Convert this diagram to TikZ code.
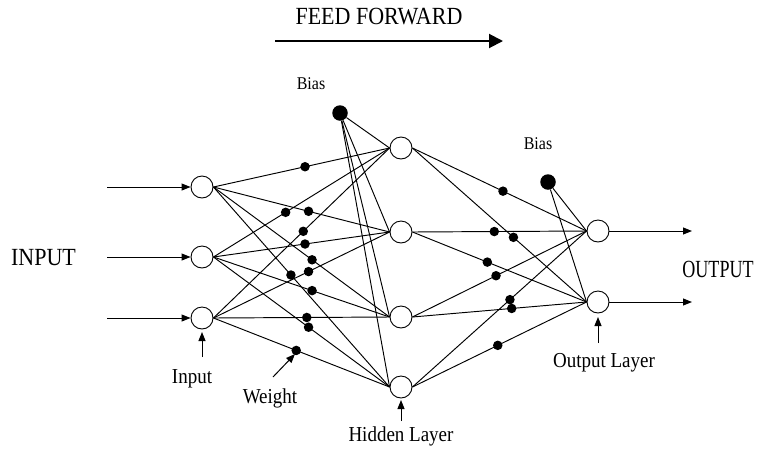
\documentclass[tikz,border=0pt]{standalone}
\usepackage{fontspec}
\usepackage{graphicx}
\setmainfont{Liberation Serif}
\usetikzlibrary{arrows.meta,calc}
% text set slightly taller than wide
\newcommand{\tallt}[1]{\scalebox{1}[1.12]{#1}}
\begin{document}
\begin{tikzpicture}[x=1pt,y=-1pt,
  neuron/.style={circle,draw,line width=0.9pt,minimum size=22pt,inner sep=0pt},
  biasdot/.style={circle,fill=black,minimum size=15.5pt,inner sep=0pt},
  wdot/.style={circle,fill=black,minimum size=9.5pt,inner sep=0pt},
  conn/.style={line width=0.95pt},
  arr/.style={line width=1pt,-{Triangle[length=9pt,width=7pt]}},
  bigtext/.style={font=\fontsize{22}{26}\selectfont,anchor=base,inner sep=0pt},
  lbl/.style={font=\fontsize{19}{22}\selectfont,anchor=base,inner sep=0pt},
  smalltext/.style={font=\fontsize{16}{19}\selectfont,anchor=base,inner sep=0pt}]
\useasboundingbox (0,0) rectangle (771,448);

% neurons
\node[neuron] (I1) at (202,187) {};
\node[neuron] (I2) at (202,257) {};
\node[neuron] (I3) at (202,318) {};
\node[neuron] (H1) at (401,148) {};
\node[neuron] (H2) at (401,232) {};
\node[neuron] (H3) at (401,317) {};
\node[neuron] (H4) at (401,387) {};
\node[neuron] (O1) at (598,231) {};
\node[neuron] (O2) at (598,302) {};

% bias units
\node[biasdot] (B1) at (340,113) {};
\node[biasdot] (B2) at (548,182) {};

% input -> hidden weights
\foreach \a/\b/\t in {I1/H1/0.52, I1/H2/0.54, I1/H3/0.56, I1/H4/0.44,
                      I2/H1/0.41, I2/H2/0.52, I2/H3/0.56, I2/H4/0.54,
                      I3/H1/0.51, I3/H2/0.54, I3/H3/0.53, I3/H4/0.47} {
  \draw[conn] (\a.east) -- (\b.west);
  \node[wdot] at ($(\a.east)!\t!(\b.west)$) {};
}
% hidden -> output weights
\foreach \a/\b/\t in {H1/O1/0.52, H1/O2/0.58, H2/O1/0.47, H2/O2/0.43,
                      H3/O1/0.48, H3/O2/0.57, H4/O1/0.56, H4/O2/0.49} {
  \draw[conn] (\a.east) -- (\b.west);
  \node[wdot] at ($(\a.east)!\t!(\b.west)$) {};
}
% bias connections
\foreach \b in {H1,H2,H3,H4} \draw[conn] (B1) -- (\b.west);
\foreach \b in {O1,O2} \draw[conn] (B2) -- (\b.west);

% inputs and outputs
\coordinate (in1) at (107,187);
\coordinate (in2) at (107,257);
\coordinate (in3) at (107,318);
\coordinate (out1) at (692,231);
\coordinate (out2) at (692,302);
\draw[arr] (in1) -- (I1.west);
\draw[arr] (in2) -- (I2.west);
\draw[arr] (in3) -- (I3.west);
\draw[arr] (O1.east) -- (out1);
\draw[arr] (O2.east) -- (out2);

% direction of flow
\node[bigtext] (ff) at (379,24) {\tallt{FEED FORWARD}};
\coordinate (ffs) at (275,41);
\coordinate (ffe) at (503,41);
\draw[line width=2pt,-{Triangle[length=14pt,width=14pt]}] (ffs) -- (ffe);

% labels
\node[bigtext] (inlbl) at (43.5,265) {\tallt{INPUT}};
\node[bigtext] (outlbl) at (718,277) {\scalebox{0.82}[1.12]{OUTPUT}};
\node[smalltext] (b1lbl) at (311,89) {\tallt{Bias}};
\node[smalltext] (b2lbl) at (538,149) {\tallt{Bias}};
\node[lbl] (inputlbl) at (192,383) {\tallt{Input}};
\node[lbl] (weightlbl) at (270,403) {\tallt{Weight}};
\node[lbl] (hiddenlbl) at (401,441) {\tallt{Hidden Layer}};
\node[lbl] (outputlbl) at (604,367) {\tallt{Output Layer}};

% pointer arrows
\coordinate (pa1) at (202,357); \coordinate (pt1) at (202,332);
\coordinate (pa2) at (273,377); \coordinate (pt2) at (295,354);
\coordinate (pa3) at (401,421); \coordinate (pt3) at (401,400);
\coordinate (pa4) at (598,343); \coordinate (pt4) at (598,317);
\draw[arr] (pa1) -- (pt1);
\draw[arr] (pa2) -- (pt2);
\draw[arr] (pa3) -- (pt3);
\draw[arr] (pa4) -- (pt4);
\end{tikzpicture}
\end{document}
